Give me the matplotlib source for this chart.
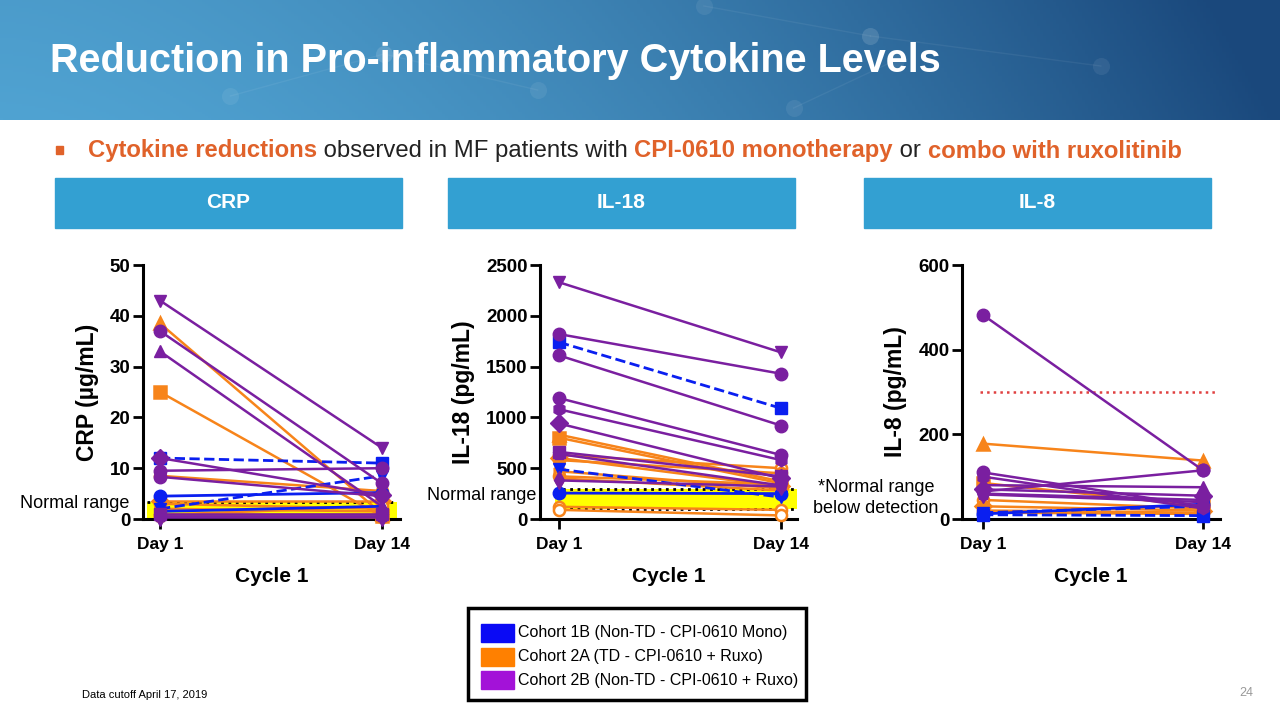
import numpy as np
import matplotlib
matplotlib.use("Agg")
from matplotlib import pyplot as plt
from matplotlib.patches import Rectangle

plt.rcParams['font.family'] = ['Liberation Sans', 'DejaVu Sans']

# ---- data (Day 1, Day 14 of Cycle 1) ----
days = ["Day 1", "Day 14"]

crp_1b_d1 = [12.0, 2.0, 4.5, 1.5]
crp_1b_d14 = [11.0, 8.5, 5.2, 2.5]
crp_1b_ls = ['--', '--', '-', '-']
crp_2a_d1 = [38.5, 25.0, 8.5, 3.5, 3.0, 1.0, 0.8, 2.0, 0.5]
crp_2a_d14 = [1.0, 0.5, 5.5, 3.5, 2.0, 1.0, 2.5, 1.5, 0.3]
crp_2b_d1 = [43.0, 37.0, 33.0, 12.0, 9.5, 8.3, 1.0, 0.5, 0.3]
crp_2b_d14 = [14.0, 7.0, 2.5, 4.7, 10.0, 4.5, 1.0, 0.5, 0.3]

il18_1b_d1 = [1740, 490, 255]
il18_1b_d14 = [1090, 215, 250]
il18_1b_ls = ['--', '--', '-']
il18_2a_d1 = [830, 800, 630, 600, 580, 470, 420, 400, 120, 90]
il18_2a_d14 = [370, 350, 500, 320, 450, 300, 340, 280, 90, 35]
il18_2b_d1 = [2330, 1820, 1610, 1190, 1080, 940, 660, 640, 380]
il18_2b_d14 = [1640, 1430, 920, 630, 580, 400, 420, 330, 320]

il8_1b_d1 = [10, 15, 12]
il8_1b_d14 = [8, 30, 35]
il8_1b_ls = ['--', '--', '-']
il8_2a_d1 = [178, 85, 45, 30, 20, 15]
il8_2a_d14 = [138, 30, 25, 20, 15, 12]
il8_2b_d1 = [482, 110, 100, 80, 70, 65, 60, 58]
il8_2b_d14 = [115, 30, 25, 75, 55, 115, 45, 40]

cohort_labels = ["Cohort 1B (Non-TD - CPI-0610 Mono)",
                 "Cohort 2A (TD - CPI-0610 + Ruxo)",
                 "Cohort 2B (Non-TD - CPI-0610 + Ruxo)"]
legend_colors = ['#0a0af5', '#ff8000', '#a312d8']

BLUE = '#0a1ff0'
ORANGE = '#f7841a'
PURPLE = '#7a1fa0'
mk_1b = ['s', 'v', 'o', '^']
mk_2a = ['^', 's', 'o', 'D', 'o', 'h', 'o', 'p', 'o', 'o']
open_2a = [False, False, True, False, False, False, True, False, True, True]
mk_2b_crp = ['v', 'o', '^', 'D', 'o', 'o', 's', 'p', 'd']
mk_2b_il18 = ['v', 'o', 'o', 'o', 'h', 'D', 's', 'p', 'd']
mk_2b_il8 = ['o', 'o', 'h', '^', 'D', 'o', 'p', 'd']

W, H = 1280, 720
fig = plt.figure(figsize=(12.8, 7.2), dpi=100)
fig.patch.set_facecolor('white')

# ---- header band ----
hax = fig.add_axes([0, 1 - 120 / H, 1, 120 / H])
gx = np.linspace(0, 1, 400)
gy = np.linspace(0, 1, 60)
GX, GY = np.meshgrid(gx, gy)
left = np.array([80, 163, 210]) / 255
right = np.array([26, 72, 124]) / 255
t = np.clip(GX ** 1.6 + 0.08 * GY, 0, 1)[..., None]
img = left * (1 - t) + right * t
hax.imshow(img, aspect='auto', extent=[0, 1, 0, 1], origin='lower')
# faint network texture
for (x0, y0, x1, y1) in [(0.18, 0.2, 0.3, 0.55), (0.3, 0.55, 0.42, 0.25), (0.55, 0.95, 0.68, 0.7),
                         (0.68, 0.7, 0.86, 0.45), (0.62, 0.1, 0.7, 0.5)]:
    hax.plot([x0, x1], [y0, y1], color='white', alpha=0.06, lw=1)
    hax.scatter([x0, x1], [y0, y1], s=150, color='white', alpha=0.07, lw=0)
hax.set_xlim(0, 1)
hax.set_ylim(0, 1)
hax.axis('off')
fig.text(50 / W, 1 - 61 / H, "Reduction in Pro-inflammatory Cytokine Levels",
         color='white', fontsize=28.5, fontweight='bold', va='center', ha='left')

# ---- bullet line ----
fig.patches.append(Rectangle((56 / W, 1 - 154 / H), 7 / W, 8 / H,
                             transform=fig.transFigure, color='#e0622a'))
segments = [("Cytokine reductions", '#e0622a', 'bold'),
            (" observed in MF patients with ", '#222222', 'normal'),
            ("CPI-0610 monotherapy", '#e0622a', 'bold'),
            (" or ", '#222222', 'normal'),
            ("combo with ruxolitinib", '#e0622a', 'bold')]
renderer = fig.canvas.get_renderer()
xpos = 88 / W
for txt, col, wt in segments:
    tt = fig.text(xpos, 1 - 151 / H, txt, color=col, fontsize=17.2, fontweight=wt,
                  va='center', ha='left')
    bb = tt.get_window_extent(renderer=renderer)
    xpos += bb.width / W

# ---- section boxes ----
for x0, x1, lab in [(55, 402, "CRP"), (448, 795, "IL-18"), (864, 1211, "IL-8")]:
    fig.patches.append(Rectangle((x0 / W, 1 - 228 / H), (x1 - x0) / W, 50 / H,
                                 transform=fig.transFigure, color='#33a0d2'))
    fig.text((x0 + x1) / 2 / W, 1 - 203 / H, lab, color='white', fontsize=15,
             fontweight='bold', ha='center', va='center')


def panel(px0, px1, day1x, day14x, ymax, yticks, ylabel, data, mk_2b):
    top, bot = 265, 519
    ax = fig.add_axes([px0 / W, 1 - bot / H, (px1 - px0) / W, (bot - top) / H])
    span = day14x - day1x
    ax.set_xlim(-(day1x - px0) / span, 1 + (px1 - day14x) / span)
    ax.set_ylim(0, ymax)
    for sp in ['top', 'right']:
        ax.spines[sp].set_visible(False)
    for sp in ['left', 'bottom']:
        ax.spines[sp].set_linewidth(2.2)
    ax.set_yticks(yticks)
    ax.set_xticks([0, 1])
    ax.set_xticklabels(days)
    ax.tick_params(axis='x', width=2, length=7, labelsize=12.5, pad=6)
    ax.tick_params(axis='y', width=2, length=7, labelsize=13.5, pad=2)
    for lb in ax.get_xticklabels() + ax.get_yticklabels():
        lb.set_fontweight('bold')
    ax.set_ylabel(ylabel, fontsize=16.5, fontweight='bold', labelpad=8)
    ax.text(0.5, -(576 - bot) / (bot - top), "Cycle 1", transform=ax.transAxes,
            ha='center', va='center', fontsize=15, fontweight='bold')
    d1b, d14b, lsb, d1a, d14a, d1p, d14p = data
    for i, (a, b) in enumerate(zip(d1a, d14a)):
        fc = 'white' if open_2a[i % len(open_2a)] else ORANGE
        ax.plot([0, 1], [a, b], color=ORANGE, lw=1.8, marker=mk_2a[i % len(mk_2a)],
                ms=8, mfc=fc, mec=ORANGE, mew=1.8, clip_on=False, zorder=3)
    for i, (a, b) in enumerate(zip(d1b, d14b)):
        ax.plot([0, 1], [a, b], color=BLUE, lw=2, ls=lsb[i], marker=mk_1b[i % len(mk_1b)],
                ms=9, mfc=BLUE, mec=BLUE, clip_on=False, zorder=4)
    for i, (a, b) in enumerate(zip(d1p, d14p)):
        ax.plot([0, 1], [a, b], color=PURPLE, lw=1.8, marker=mk_2b[i % len(mk_2b)],
                ms=9, mfc=PURPLE, mec=PURPLE, clip_on=False, zorder=5)
    return ax


ax1 = panel(143, 400, 160, 382, 50, [0, 10, 20, 30, 40, 50], "CRP (µg/mL)",
            (crp_1b_d1, crp_1b_d14, crp_1b_ls, crp_2a_d1, crp_2a_d14, crp_2b_d1, crp_2b_d14),
            mk_2b_crp)
ax1.axhspan(0, 3.4, xmin=0.015, xmax=0.99, color='#ffff00', zorder=1, lw=0)
ax1.axhline(3.4, xmin=0.015, xmax=0.99, color='black', ls=':', lw=2, zorder=2)
fig.text(20 / W, 1 - 503 / H, "Normal range", fontsize=13, ha='left', va='center')

ax2 = panel(540, 797, 559, 781, 2500, [0, 500, 1000, 1500, 2000, 2500], "IL-18 (pg/mL)",
            (il18_1b_d1, il18_1b_d14, il18_1b_ls, il18_2a_d1, il18_2a_d14, il18_2b_d1, il18_2b_d14),
            mk_2b_il18)
ax2.axhspan(100, 300, xmin=0.06, xmax=1.0, color='#ffff00', zorder=1, lw=0)
for yv in (100, 300):
    ax2.axhline(yv, xmin=0.06, xmax=1.0, color='black', ls=':', lw=2, zorder=2)
fig.text(427 / W, 1 - 496 / H, "Normal range", fontsize=13, ha='left', va='center')

ax3 = panel(962, 1220, 983, 1203, 600, [0, 200, 400, 600], "IL-8 (pg/mL)",
            (il8_1b_d1, il8_1b_d14, il8_1b_ls, il8_2a_d1, il8_2a_d14, il8_2b_d1, il8_2b_d14),
            mk_2b_il8)
ax3.axhline(300, xmin=0.07, xmax=0.99, color='#e04040', ls=':', lw=1.8, zorder=2)
fig.text(876 / W, 1 - 498 / H, "*Normal range\nbelow detection", fontsize=13,
         ha='center', va='center', linespacing=1.3)

# ---- legend ----
fig.patches.append(Rectangle((468 / W, 1 - 700 / H), 338 / W, 92 / H, transform=fig.transFigure,
                             fill=False, edgecolor='black', lw=2.5))
for i, (lab, col) in enumerate(zip(cohort_labels, legend_colors)):
    yc = 633 + i * 23.5
    fig.patches.append(Rectangle((481 / W, 1 - (yc + 9) / H), 33 / W, 18 / H,
                                 transform=fig.transFigure, color=col))
    fig.text(518 / W, 1 - yc / H, lab, fontsize=11.5, ha='left', va='center')

fig.text(82 / W, 1 - 695 / H, "Data cutoff April 17, 2019", fontsize=8, ha='left', va='center')
fig.text(1253 / W, 1 - 693 / H, "24", fontsize=9, color='#999999', ha='right', va='center')

fig.savefig("out.png", dpi=100)
